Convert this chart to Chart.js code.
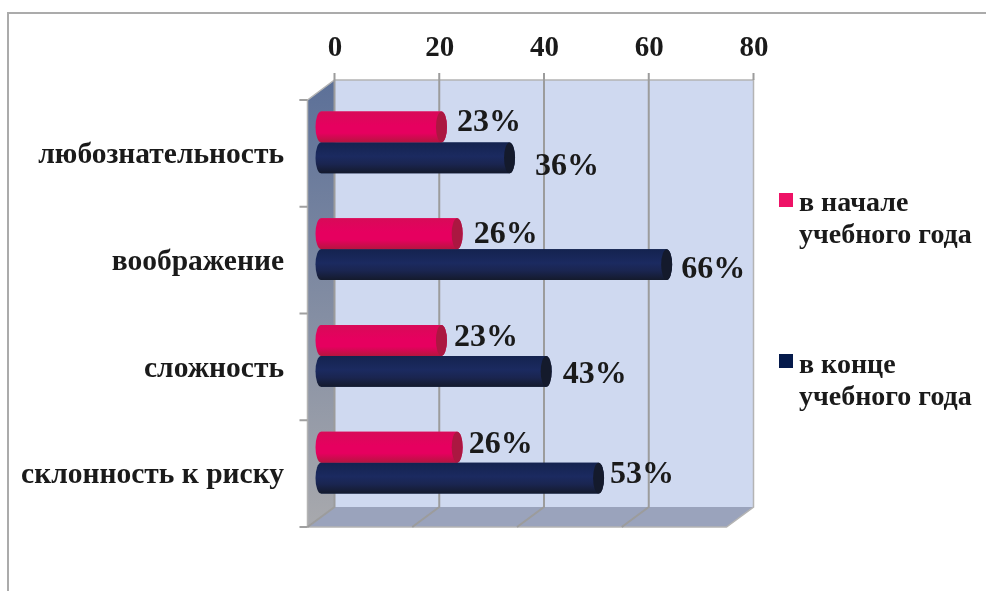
<!DOCTYPE html>
<html>

<head>
	<title>Chart</title>
	<script src="https://cdn.jsdelivr.net/npm/chart.js"></script>
	<style>
		html, body { margin: 0; padding: 0; background: #fff; }
		#wrap { position: relative; width: 986px; height: 591px; }
	</style>
</head>

<body>
	<div id="wrap"><canvas id="myChart" width="986" height="591"></canvas></div>
	<script>
		// data
		const categories = ['любознательность', 'воображение', 'сложность', 'склонность к риску'];
		const startValues = [23, 26, 23, 26];
		const endValues = [36, 66, 43, 53];
		const startLabel = ['в начале', 'учебного года'];
		const endLabel = ['в конце', 'учебного года'];
		const axisMax = 80;
		const axisStep = 20;

		// hand placed value labels, offset from the end of the bar (dx, dy)
		const startNudge = [[10, -4], [11, 1], [7, -3], [6, -2]];
		const endNudge = [[20, 9], [9, 5], [11, 3], [6, -3]];

		const FONT = '"Liberation Serif", serif';
		const TEXT = '#1a1a1a';
		const depthX = 27, depthY = 20;   // full depth of the 3d box
		const barX = 13, barY = 11;       // where the bars sit inside the box

		// walls, floor and grid of the fake 3d box
		const boxPlugin = {
			id: 'box',
			beforeDatasetsDraw(chart) {
				const c = chart.ctx, x = chart.scales.x, area = chart.chartArea;
				const left = x.getPixelForValue(0) - barX - 0.5, right = x.getPixelForValue(axisMax) - barX - 0.5;
				const top = area.top + barY, bottom = area.bottom + barY;
				const backTop = top - depthY, backBottom = bottom - depthY;
				c.save();

				// outer frame
				c.strokeStyle = '#ababab';
				c.lineWidth = 2;
				c.beginPath();
				c.moveTo(8, 591);
				c.lineTo(8, 13);
				c.lineTo(986, 13);
				c.stroke();

				// back wall
				c.fillStyle = '#cfd9f0';
				c.fillRect(left + depthX, backTop, right - left, backBottom - backTop);

				// left wall
				let g = c.createLinearGradient(0, backTop, 0, bottom);
				g.addColorStop(0, '#5c7098');
				g.addColorStop(1, '#a8a9ad');
				c.fillStyle = g;
				c.beginPath();
				c.moveTo(left, top);
				c.lineTo(left + depthX, backTop);
				c.lineTo(left + depthX, backBottom);
				c.lineTo(left, bottom);
				c.closePath();
				c.fill();

				// floor
				c.fillStyle = '#9aa3bc';
				c.beginPath();
				c.moveTo(left, bottom);
				c.lineTo(left + depthX, backBottom);
				c.lineTo(right + depthX, backBottom);
				c.lineTo(right, bottom);
				c.closePath();
				c.fill();

				// light outline of the box
				c.strokeStyle = '#b4b4b4';
				c.lineWidth = 1.5;
				c.beginPath();
				c.moveTo(left - 8, top);
				c.lineTo(left, top);
				c.lineTo(left + depthX, backTop);
				c.lineTo(right + depthX, backTop);
				c.lineTo(right + depthX, backBottom);
				c.lineTo(right, bottom);
				c.lineTo(left, bottom);
				c.lineTo(left, top);
				c.stroke();

				// grid lines run over back wall and floor
				c.strokeStyle = '#9c9c9c';
				c.lineWidth = 2;
				c.beginPath();
				for (let v = 0; v < axisMax; v += axisStep) {
					const px = x.getPixelForValue(v) - barX - 0.5;
					c.moveTo(px + depthX, backTop - 7);
					c.lineTo(px + depthX, backBottom);
					c.lineTo(px, bottom);
				}
				const endPx = x.getPixelForValue(axisMax) - barX - 0.5 + depthX;
				c.moveTo(endPx, backTop - 7);
				c.lineTo(endPx, backTop);
				c.stroke();

				// category ticks on the front edge
				c.strokeStyle = '#a0a0a0';
				c.beginPath();
				for (let i = 0; i <= categories.length; i++) {
					const py = top + (bottom - top) * i / categories.length;
					c.moveTo(left - 8, py);
					c.lineTo(left, py);
				}
				c.stroke();
				c.restore();
			}
		};

		// bars are repainted as cylinders on top of the elements chart.js placed
		const cylinderColors = [
			{ stops: ['#d80a58', '#e6005f', '#e6005f', '#b5153f'], cap: '#ab1741' },
			{ stops: ['#14234f', '#1b2a60', '#1a2550', '#141a2c'], cap: '#141a2c' }
		];

		const cylinderPlugin = {
			id: 'cylinder',
			afterDatasetsDraw(chart) {
				const c = chart.ctx;
				chart.data.datasets.forEach((ds, d) => {
					const col = cylinderColors[d];
					chart.getDatasetMeta(d).data.forEach((bar, i) => {
						const h = bar.height, top = bar.y - h / 2, x0 = bar.base, x1 = bar.x, rx = 5.5;
						const g = c.createLinearGradient(0, top, 0, top + h);
						g.addColorStop(0, col.stops[0]);
						g.addColorStop(0.45, col.stops[1]);
						g.addColorStop(0.7, col.stops[2]);
						g.addColorStop(1, col.stops[3]);
						c.save();
						c.fillStyle = g;
						c.beginPath();
						c.ellipse(x0, bar.y, rx, h / 2, 0, Math.PI / 2, Math.PI * 1.5);
						c.lineTo(x1, top);
						c.ellipse(x1, bar.y, rx, h / 2, 0, -Math.PI / 2, Math.PI / 2);
						c.closePath();
						c.fill();
						c.fillStyle = col.cap;
						c.beginPath();
						c.ellipse(x1, bar.y, rx, h / 2, 0, 0, Math.PI * 2);
						c.fill();

						// value label
						const nudge = d === 0 ? startNudge[i] : endNudge[i];
						c.fillStyle = TEXT;
						c.font = 'bold 32px ' + FONT;
						c.textAlign = 'left';
						c.textBaseline = 'middle';
						c.fillText(ds.data[i] + '%', x1 + rx + nudge[0], bar.y + nudge[1]);
						c.restore();
					});
				});
			}
		};

		// legend is placed by hand, its labels come from the datasets
		const legendPlugin = {
			id: 'sideLegend',
			afterDraw(chart) {
				const c = chart.ctx;
				const swatches = [193, 354];
				const rows = [204, 366];
				c.save();
				chart.data.datasets.forEach((ds, d) => {
					c.fillStyle = ds.backgroundColor;
					c.fillRect(779, swatches[d], 14, 14);
					c.fillStyle = TEXT;
					c.font = 'bold 28px ' + FONT;
					c.textAlign = 'left';
					c.textBaseline = 'middle';
					ds.label.forEach((line, n) => c.fillText(line, 799, rows[d] + n * 32));
				});
				c.restore();
			}
		};

		var ctx = document.getElementById('myChart').getContext('2d');
		var chart = new Chart(ctx, {
			type: 'bar',
			data: {
				labels: categories,
				datasets: [{
					label: startLabel,
					data: startValues,
					backgroundColor: '#ee1266'
				},
				{
					label: endLabel,
					data: endValues,
					backgroundColor: '#051a4b'
				}]
			},
			options: {
				indexAxis: 'y',
				responsive: false,
				animation: false,
				layout: { padding: { left: 0, top: 0, right: 246, bottom: 75 } },
				datasets: { bar: { categoryPercentage: 0.58, barPercentage: 1 } },
				plugins: {
					legend: { display: false },
					title: { display: false },
					tooltip: { enabled: false }
				},
				scales: {
					x: {
						position: 'top',
						min: 0,
						max: axisMax,
						afterFit: s => { s.height = 89; },
						grid: { display: false },
						border: { display: false },
						ticks: {
							stepSize: axisStep,
							maxRotation: 0,
							labelOffset: 14,
							padding: 15,
							color: TEXT,
							font: { family: FONT, size: 29, weight: 'bold' }
						}
					},
					y: {
						afterFit: s => { s.width = 321; },
						grid: { display: false },
						border: { display: false },
						ticks: {
							labelOffset: 13,
							padding: 29,
							color: TEXT,
							font: { family: FONT, size: 29.5, weight: 'bold' }
						}
					}
				}
			},
			plugins: [boxPlugin, cylinderPlugin, legendPlugin]
		});
	</script>
</body>

</html>
